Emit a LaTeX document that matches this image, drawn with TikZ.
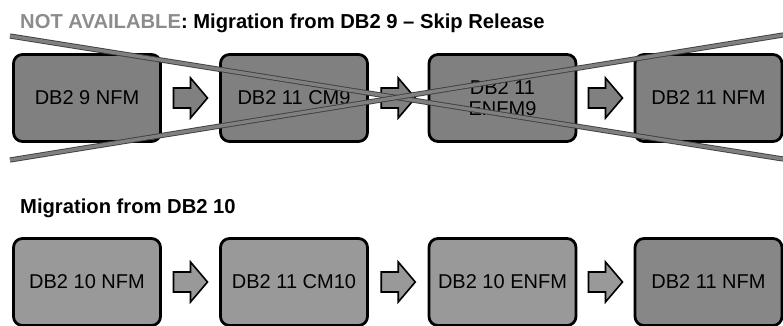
\documentclass[tikz,border=0pt]{standalone}
\usepackage{fontspec}
\setmainfont{Liberation Sans}
\usetikzlibrary{calc}

\definecolor{boxdark}{gray}{0.5}
\definecolor{boxlight}{gray}{0.6}
\definecolor{boxmid}{gray}{0.53}
\definecolor{crossfill}{gray}{0.5}
\definecolor{titlegray}{gray}{0.55}

\tikzset{
	stagebox/.style={draw=black, line width=2.8pt, rounded corners=9pt, minimum width=147pt, minimum height=87pt, inner sep=0pt, align=center, font=\fontsize{20}{21}\selectfont},
	rowtitle/.style={anchor=base west, inner sep=0pt, font=\bfseries\fontsize{20.2}{20}\selectfont},
	pics/stagearrow/.style={code={\draw[black, line width=1.6pt, fill=#1, line join=miter] (-17,-10) -- (0,-10) -- (0,-20) -- (17,0) -- (0,20) -- (0,10) -- (-17,10) -- cycle;}},
	crossbar/.style={draw=black!75, line width=0.9pt, double=crossfill, double distance=3.4pt},
}

\begin{document}
\begin{tikzpicture}[x=1pt, y=-1pt]
	\useasboundingbox (0,0) rectangle (783,326);
	\node[rowtitle] (skiptitle) at (20,29) {\textcolor{titlegray}{NOT AVAILABLE}: Migration from DB2 9 – Skip Release};
	\node[rowtitle] (mig10title) at (20,213) {Migration from DB2 10};
	% skip release (crossed out)
	\node[stagebox, fill=boxdark] (s1) at (87,98) {DB2 9 NFM};
	\node[stagebox, fill=boxdark] (s2) at (294,98) {DB2 11 CM9};
	\node[stagebox, fill=boxdark] (s3) at (502.5,98) {DB2 11\\ENFM9};
	\node[stagebox, fill=boxdark] (s4) at (708.5,98) {DB2 11 NFM};
	\foreach \a/\b in {s1/s2,s2/s3,s3/s4}
		\pic at ($(\a.east)!0.5!(\b.west)$) {stagearrow=boxdark};
	% from DB2 10
	\node[stagebox, fill=boxlight] (m1) at (87,282) {DB2 10 NFM};
	\node[stagebox, fill=boxlight] (m2) at (294,282) {DB2 11 CM10};
	\node[stagebox, fill=boxlight] (m3) at (502.5,282) {DB2 10 ENFM};
	\node[stagebox, fill=boxmid] (m4) at (708.5,282) {DB2 11 NFM};
	\foreach \a/\b in {m1/m2,m2/m3,m3/m4}
		\pic at ($(\a.east)!0.5!(\b.west)$) {stagearrow=boxlight};
	% the cross
	\coordinate (xtl) at (10,36);
	\coordinate (xbr) at (783,159);
	\coordinate (xbl) at (10,160);
	\coordinate (xtr) at (783,35);
	\draw[crossbar] (xtl) -- (xbr);
	\draw[crossbar] (xbl) -- (xtr);
\end{tikzpicture}
\end{document}
